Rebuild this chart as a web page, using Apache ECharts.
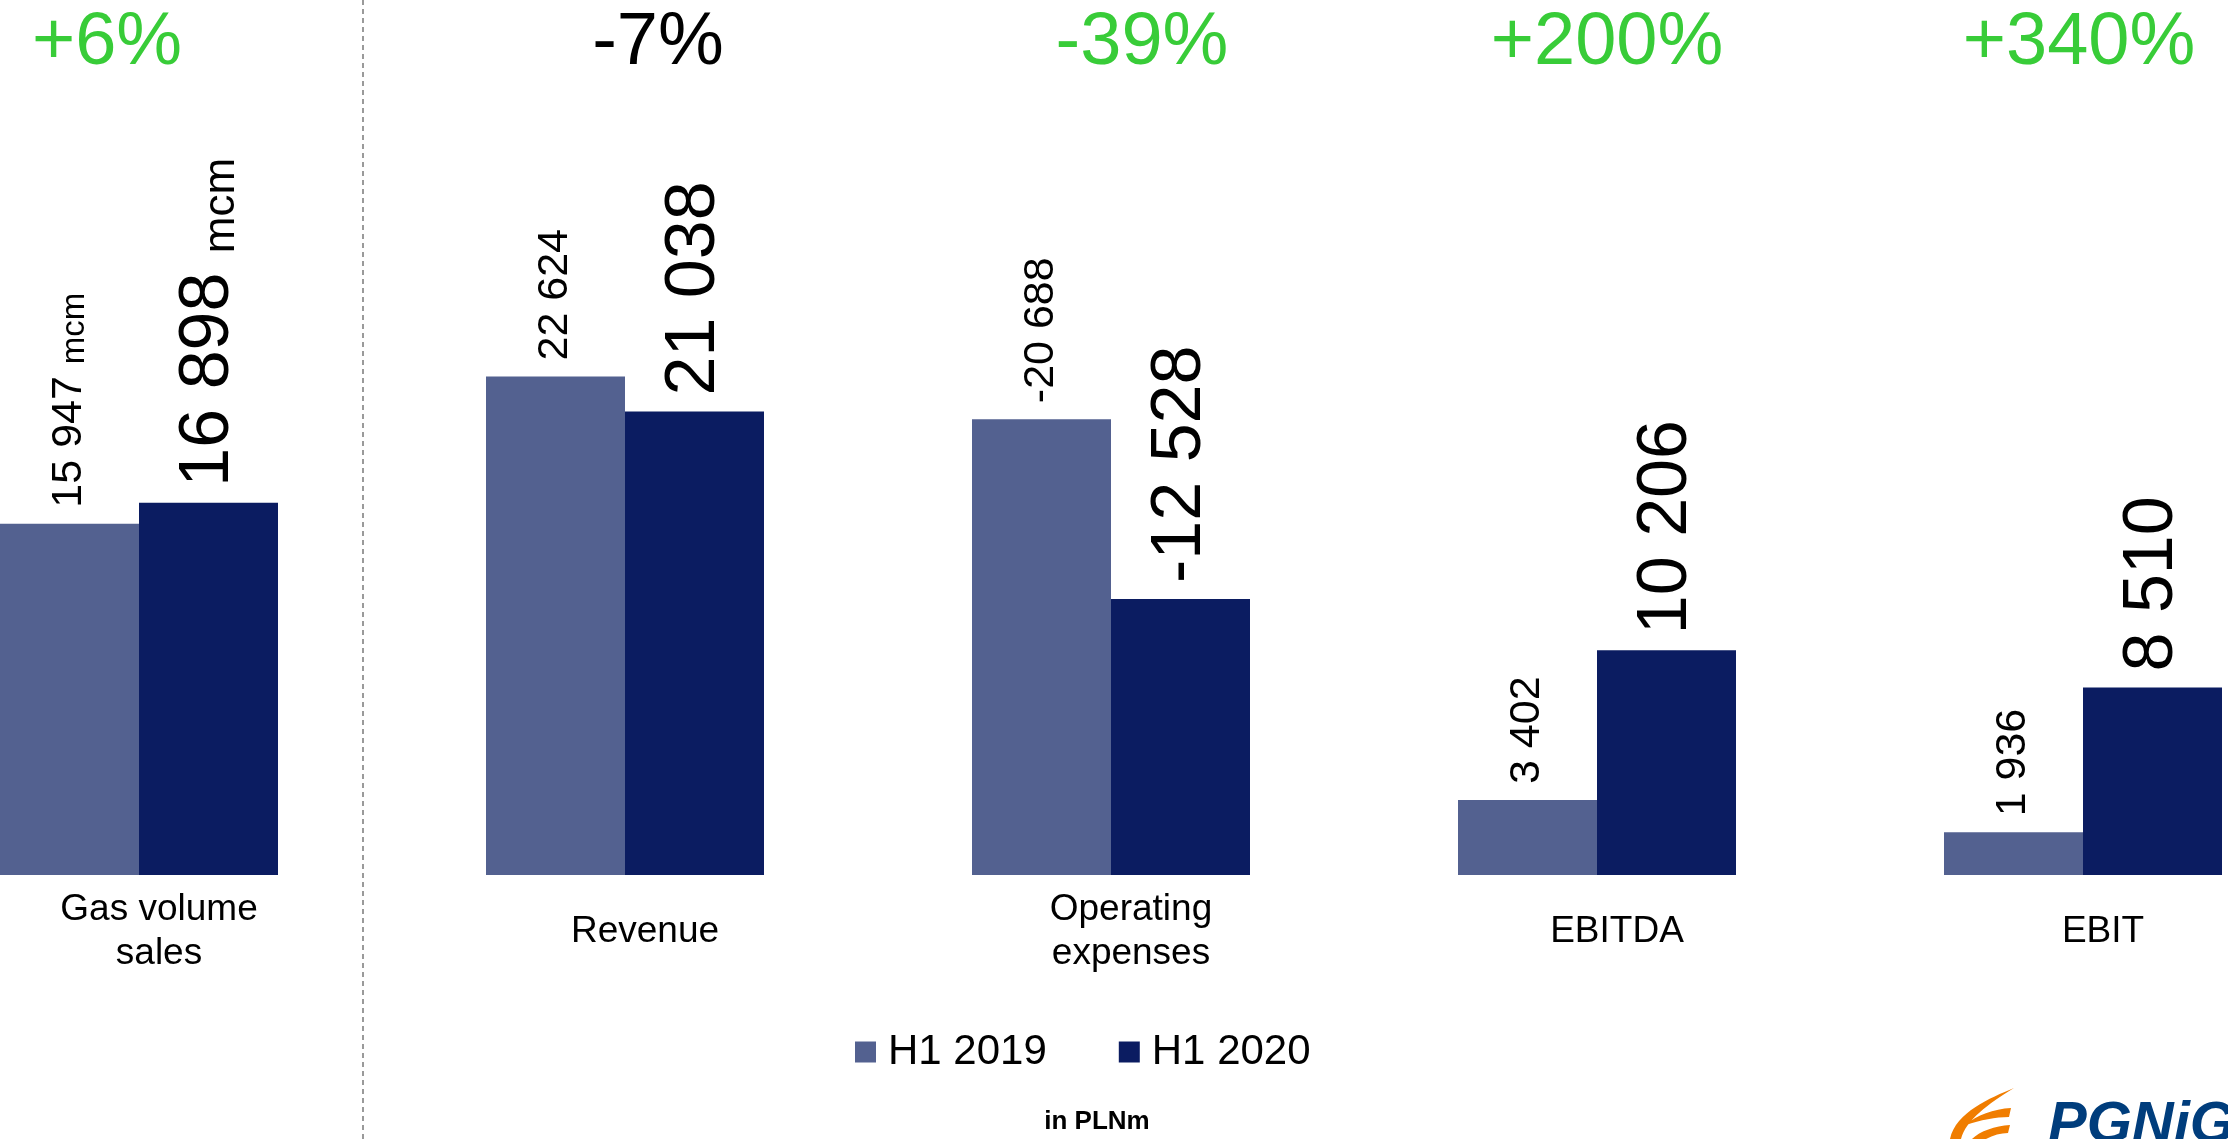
<!DOCTYPE html>
<html>
<head>
<meta charset="utf-8">
<title>PGNiG H1 2020</title>
<script src="https://cdn.jsdelivr.net/npm/echarts@6.0.0/dist/echarts.min.js"></script>
<style>
    html, body { margin: 0; padding: 0; background: #fff; }
    #chart { width: 2228px; height: 1139px; }
</style>
</head>
<body>
<div id="chart"></div>
<script>
// values (in PLNm, gas in mcm)
const categories = ['Gas volume\nsales', 'Revenue', 'Operating\nexpenses', 'EBITDA', 'EBIT'];
const h1_2019 = [15947, 22624, -20688, 3402, 1936];
const h1_2020 = [16898, 21038, -12528, 10206, 8510];
const units = ['mcm', '', '', '', ''];
const changes = ['+6%', '-7%', '-39%', '+200%', '+340%'];
const changeIsGood = [true, false, true, true, true];

const FONT = '"Liberation Sans", Arial, sans-serif';
const GREEN = '#38cc38';
// the % headers on the slide are not exactly centred over the bars (px)
const changeShift = [-32, 33, 31, 10, -4];

// 22624 -> "22 624"
const fmt = (v) => String(v).replace(/\B(?=(\d{3})+(?!\d))/g, ' ');

// logo flame (three feathers)
echarts.graphic.registerShape('pgnigFlame', echarts.graphic.extendPath(
    'M64 0 C40 10 6 24 0 51 L11 51 C16 32 38 16 64 0 Z ' +
    'M61 20 C44 21 26 27 16 37 C30 32 46 29 59 29 Z ' +
    'M60 37 C45 38 30 43 22 51 L36 51 C43 47 51 45 58 45 Z'
));

const barLabel = (values, big, small) => ({
    show: true,
    position: 'top',
    rotate: 90,
    align: 'left',
    verticalAlign: 'middle',
    distance: 16,
    color: '#000',
    fontFamily: FONT,
    fontSize: big,
    formatter: (p) => {
        const u = units[p.dataIndex];
        return '{v|' + fmt(values[p.dataIndex]) + '}' + (u ? ' {u|' + u + '}' : '');
    },
    rich: {
        v: { fontSize: big, fontFamily: FONT, color: '#000', verticalAlign: 'bottom' },
        u: { fontSize: small, fontFamily: FONT, color: '#000', verticalAlign: 'bottom' }
    }
});

const chart = echarts.init(document.getElementById('chart'));

chart.setOption({
    animation: false,
    backgroundColor: '#fff',
    textStyle: { fontFamily: FONT },
    grid: { left: -104, width: 2430, top: 214, bottom: 264, outerBoundsMode: 'none' },
    legend: {
        data: ['H1 2019', 'H1 2020'],
        left: 855,
        top: 1030,
        padding: 0,
        icon: 'rect',
        itemWidth: 21,
        itemHeight: 21,
        itemGap: 72,
        textStyle: { fontSize: 42, color: '#000', fontFamily: FONT, lineHeight: 44, padding: [0, 0, 0, 7] }
    },
    xAxis: [
        {
            type: 'category',
            data: categories,
            position: 'bottom',
            axisLine: { show: false },
            axisTick: { show: false },
            axisLabel: {
                interval: 0,
                margin: 57,
                verticalAlign: 'middle',
                fontSize: 37,
                lineHeight: 44,
                color: '#000',
                padding: [0, 0, 0, 40]
            }
        },
        {
            type: 'category',
            position: 'top',
            data: changes.map((c, i) => {
                const s = changeShift[i];
                return {
                    value: c,
                    textStyle: {
                        color: changeIsGood[i] ? GREEN : '#000',
                        padding: s > 0 ? [0, 0, 0, 2 * s] : [0, -2 * s, 0, 0]
                    }
                };
            }),
            axisLine: { show: false },
            axisTick: { show: false },
            axisLabel: {
                interval: 0,
                margin: 133,
                verticalAlign: 'middle',
                fontSize: 74
            }
        }
    ],
    yAxis: { type: 'value', min: 0, max: 30000, show: false },
    series: [
        {
            name: 'H1 2019',
            type: 'bar',
            barWidth: 139,
            barGap: '0%',
            itemStyle: { color: '#536190' },
            data: h1_2019.map((v) => Math.abs(v)),
            label: barLabel(h1_2019, 43, 33)
        },
        {
            name: 'H1 2020',
            type: 'bar',
            barWidth: 139,
            barGap: '0%',
            itemStyle: { color: '#0b1c61' },
            data: h1_2020.map((v) => Math.abs(v)),
            label: barLabel(h1_2020, 70, 44)
        }
    ],
    graphic: [
        {
            type: 'line',
            shape: { x1: 363, y1: 0, x2: 363, y2: 1139 },
            style: { stroke: '#7a7a7a', lineWidth: 1.5, lineDash: [5, 4] }
        },
        {
            type: 'text',
            x: 1097,
            y: 1122,
            style: { text: 'in PLNm', font: 'bold 26px ' + FONT, fill: '#000', textAlign: 'center', textVerticalAlign: 'middle' }
        },
        // PGNiG logo, cut by the page edge
        {
            type: 'pgnigFlame',
            x: 1950,
            y: 1088,
            style: { fill: '#f07d00' }
        },
        {
            type: 'text',
            x: 2048,
            y: 1097,
            style: { text: 'PGNiG', font: 'italic bold 58px ' + FONT, fill: '#003d7c', textVerticalAlign: 'top' }
        }
    ]
});
</script>
</body>
</html>
